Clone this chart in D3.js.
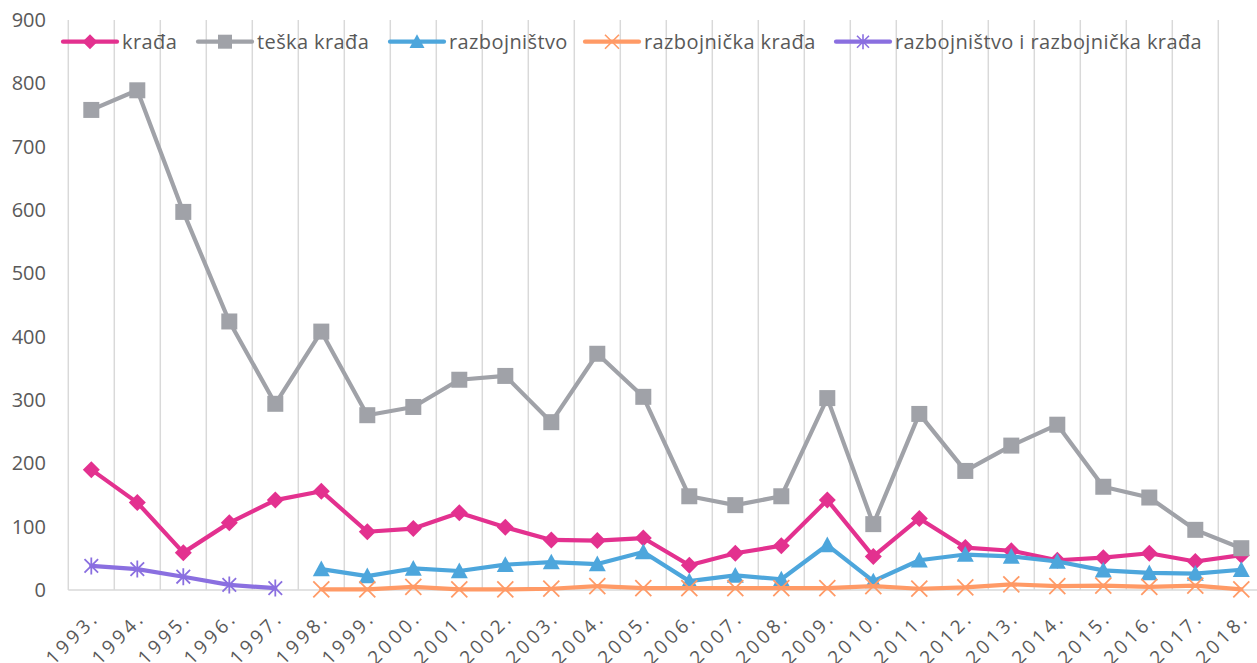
<!DOCTYPE html>
<html>
<head>
<meta charset="utf-8">
<script src="https://cdn.jsdelivr.net/npm/d3@7"></script>
<style>
  html, body { margin: 0; padding: 0; background: #fff; }
  svg { display: block; }
  text { font-family: "Open Sans", "DejaVu Sans", sans-serif; fill: #595959; }
</style>
</head>
<body>
<svg id="chart" width="1257" height="663"></svg>
<script>
const years = ["1993.","1994.","1995.","1996.","1997.","1998.","1999.","2000.","2001.","2002.","2003.","2004.","2005.","2006.","2007.","2008.","2009.","2010.","2011.","2012.","2013.","2014.","2015.","2016.","2017.","2018."];
const yTicks = [0,100,200,300,400,500,600,700,800,900];

const kradja =      [190,138,59,106,142,156,92,97,122,99,79,78,82,39,58,70,142,53,113,67,62,47,51,58,45,55];
const teskaKradja = [758,789,597,424,294,408,276,289,332,338,265,373,305,148,134,148,303,104,278,188,228,261,163,146,95,66];
const razbojnistvo = [null,null,null,null,null,33,22,34,30,40,44,41,60,14,23,17,71,14,47,56,53,45,31,27,26,32];
const razbojnickaKradja = [null,null,null,null,null,1,1,5,1,1,2,6,3,3,3,3,3,6,2,4,9,6,7,5,7,1];
const razbIRazbKradja = [38,33,21,8,3,null,null,null,null,null,null,null,null,null,null,null,null,null,null,null,null,null,null,null,null,null];

const seriesNames = ["krađa","teška krađa","razbojništvo","razbojnička krađa","razbojništvo i razbojnička krađa"];
const seriesColors = ["#E3318F","#A0A2A8","#4DA6DC","#FF9A66","#8A6FE0"];
const seriesMarkers = ["diamond","square","triangle","x","asterisk"];
const seriesValues = [kradja, teskaKradja, razbojnistvo, razbojnickaKradja, razbIRazbKradja];
const legendX = [63, 198, 390, 585, 836];

const svg = d3.select("#chart");
const x = d3.scaleBand().domain(years).range([68.3, 68.3 + 46 * years.length]).padding(0);
const y = d3.scaleLinear().domain([0, 900]).range([590, 20]);
const cx = d => x(d) + x.bandwidth() / 2;

// vertical gridlines at band boundaries
const gridG = svg.append("g");
const bounds = years.map(d => x(d)).concat([x.range()[1]]);
gridG.selectAll("line").data(bounds).join("line")
  .attr("x1", d => d).attr("x2", d => d)
  .attr("y1", y(900)).attr("y2", y(0))
  .attr("stroke", "#D9D9D9").attr("stroke-width", 1.5);

// x axis baseline
svg.append("line")
  .attr("x1", x.range()[0]).attr("x2", x.range()[1])
  .attr("y1", y(0)).attr("y2", y(0))
  .attr("stroke", "#D9D9D9").attr("stroke-width", 1.5);

// y axis labels
const yAxis = d3.axisLeft(y).tickValues(yTicks).tickSize(0).tickPadding(0);
const yG = svg.append("g").attr("transform", "translate(46,0)").call(yAxis);
yG.select(".domain").remove();
yG.selectAll("text").style("font-size", "20px").attr("fill", "#595959")
  .style("font-family", '"Open Sans", sans-serif');

// x axis labels
const xAxis = d3.axisBottom(x).tickSize(0).tickPadding(0);
const xG = svg.append("g").attr("transform", `translate(0,${y(0)})`).call(xAxis);
xG.select(".domain").remove();
xG.selectAll(".tick text")
  .style("font-size", "19px").attr("fill", "#595959")
  .style("font-family", '"Open Sans", sans-serif')
  .style("letter-spacing", "3.5px")
  .attr("text-anchor", "end")
  .attr("dy", null).attr("y", 0)
  .attr("transform", "translate(9,29) rotate(-45)");

function markerPath(type, s) {
  const h = s / 2;
  switch (type) {
    case "diamond": return `M0,${-h}L${h},0L0,${h}L${-h},0Z`;
    case "square": return `M${-h},${-h}H${h}V${h}H${-h}Z`;
    case "triangle": return `M0,${-h}L${h},${h*0.85}L${-h},${h*0.85}Z`;
    case "x": return `M${-h},${-h}L${h},${h}M${-h},${h}L${h},${-h}`;
    case "asterisk": { const k = h * 0.8; return `M${-k},${-k}L${k},${k}M${-k},${k}L${k},${-k}M0,${-h}L0,${h}`; }
  }
}
const markerSize = [17, 16, 17, 16, 17];
const filled = t => t === "diamond" || t === "square" || t === "triangle";

const line = d3.line()
  .defined(d => d.v !== null)
  .x(d => cx(d.year))
  .y(d => y(d.v));

seriesValues.forEach((vals, i) => {
  const data = years.map((yr, j) => ({ year: yr, v: vals[j] }));
  const g = svg.append("g");
  g.append("path").datum(data)
    .attr("d", line)
    .attr("fill", "none")
    .attr("stroke", seriesColors[i])
    .attr("stroke-width", 4.2)
    .attr("stroke-linejoin", "round")
    .attr("stroke-linecap", "round");
  const pts = data.filter(d => d.v !== null);
  g.selectAll("path.m").data(pts).join("path")
    .attr("class", "m")
    .attr("transform", d => `translate(${cx(d.year)},${y(d.v)})`)
    .attr("d", markerPath(seriesMarkers[i], markerSize[i]))
    .attr("fill", filled(seriesMarkers[i]) ? seriesColors[i] : "none")
    .attr("stroke", seriesColors[i])
    .attr("stroke-width", filled(seriesMarkers[i]) ? 0 : 1.8);
});

// legend
const legY = 41.7;
const lg = svg.append("g");
seriesNames.forEach((name, i) => {
  const x0 = legendX[i];
  const g = lg.append("g").attr("transform", `translate(${x0},${legY})`);
  g.append("line").attr("x1", 0).attr("x2", 54).attr("y1", 0).attr("y2", 0)
    .attr("stroke", seriesColors[i]).attr("stroke-width", 4.2).attr("stroke-linecap", "round");
  g.append("path").attr("transform", "translate(27,0)")
    .attr("d", markerPath(seriesMarkers[i], markerSize[i] - 2))
    .attr("fill", filled(seriesMarkers[i]) ? seriesColors[i] : "none")
    .attr("stroke", seriesColors[i])
    .attr("stroke-width", filled(seriesMarkers[i]) ? 0 : 1.6);
  g.append("text").attr("x", 59).attr("y", 0).attr("dy", "0.35em")
    .style("font-size", "20px").style("letter-spacing", "0.4px").text(name);
});
</script>
</body>
</html>
